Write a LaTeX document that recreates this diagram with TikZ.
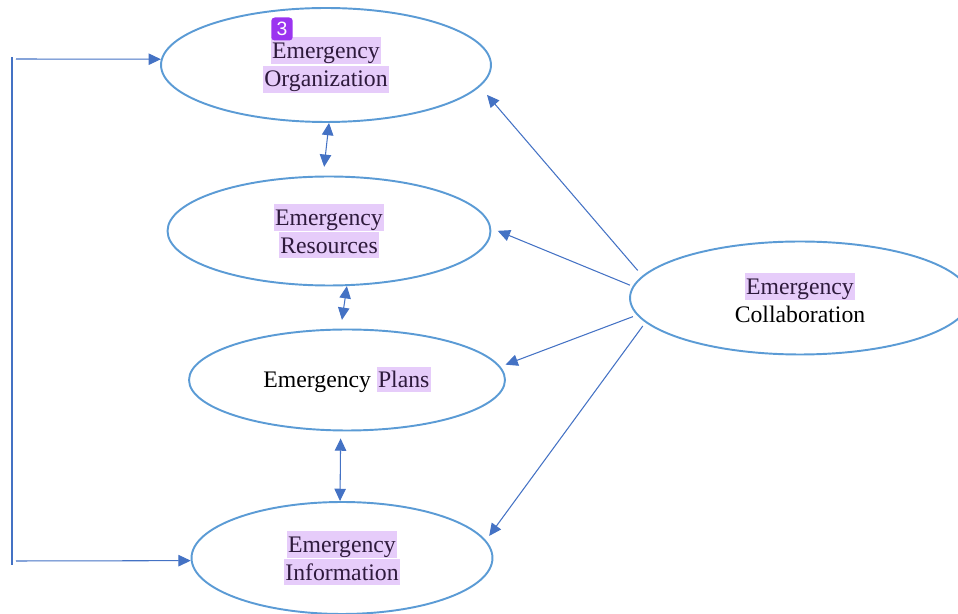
\documentclass[tikz,border=0pt]{standalone}
\usepackage{fontspec}
\setmainfont{Liberation Serif}
\newfontfamily\badgefont{Liberation Sans}
\usepackage{xcolor}
\usetikzlibrary{arrows.meta,shapes.geometric}
\definecolor{ringblue}{HTML}{5B9BD5}
\definecolor{linkblue}{HTML}{4472C4}
\definecolor{hlfill}{HTML}{E6CCFA}
\definecolor{hltext}{HTML}{2E1A3C}
\definecolor{badgepurple}{HTML}{9B34F0}
\tikzset{%
	topic/.style  = {draw=ringblue, ellipse, line width=1.1pt, inner sep=0pt, align=center, font=\fontsize{13.5}{16}\selectfont},
	link/.style   = {draw=linkblue, line width=0.6pt, -{Triangle[length=7pt,width=6.5pt]}},
	twoway/.style = {draw=linkblue, line width=0.6pt, {Triangle[length=7pt,width=6.5pt]}-{Triangle[length=7pt,width=6.5pt]}},
	rail/.style   = {draw=linkblue, line width=0.6pt},
	badge/.style  = {fill=badgepurple, rounded corners=2pt, text=white, inner sep=0pt, minimum width=0.43cm, minimum height=0.46cm, font=\badgefont\fontsize{11}{11}\selectfont},
}
\newcommand{\hlword}[1]{{\setlength{\fboxsep}{0.6pt}\colorbox{hlfill}{\color{hltext}\rule[-2pt]{0pt}{13.3pt}#1}}}

\begin{document}
\begin{tikzpicture}[x=0.02cm,y=-0.02cm]
	\useasboundingbox (0,0) rectangle (958,614);
	
	\node[topic, minimum width=6.6cm, minimum height=2.28cm] (org) at (326,65) {\hlword{Emergency}\\\hlword{Organization}};
	\node[topic, minimum width=6.46cm, minimum height=2.18cm] (res) at (329,231) {\hlword{Emergency}\\\hlword{Resources}};
	\node[topic, minimum width=6.32cm, minimum height=2.02cm] (plans) at (347,380) {Emergency \hlword{Plans}};
	\node[topic, minimum width=6.02cm, minimum height=2.24cm] (info) at (342,558) {\hlword{Emergency}\\\hlword{Information}};
	\node[topic, minimum width=6.8cm, minimum height=2.26cm] (collab) at (800,298) {\hlword{Emergency}\\Collaboration};
	\node[badge] (tag) at (282,29) {3};
	
	\draw[twoway, shorten >=5pt] (org.-87) -- (res.96);
	\draw[twoway, shorten >=5pt] (res.-72) -- (plans.97);
	\draw[twoway, shorten <=4pt] (plans.-97) -- (info.92);
	
	\foreach \from/\to/\gapa/\gapb in {172.6/org.-8.6/4pt/6.2pt, 176.6/res.1/1.7pt/4pt, 186.6/plans.5/2.4pt/3.1pt, 189.5/info.7/2.5pt/3.1pt} \draw[link, shorten <=\gapa, shorten >=\gapb] (collab.\from) -- (\to);
	
	\coordinate (railtop) at (12,57);
	\coordinate (railbot) at (12,565);
	\coordinate (feedorg) at (16,59);
	\coordinate (feedinfo) at (16,561);
	\draw[rail] (railtop) -- (railbot);
	\draw[link] (feedorg) -- (org.178);
	\draw[link] (feedinfo) -- (info.181);
\end{tikzpicture}
\end{document}
